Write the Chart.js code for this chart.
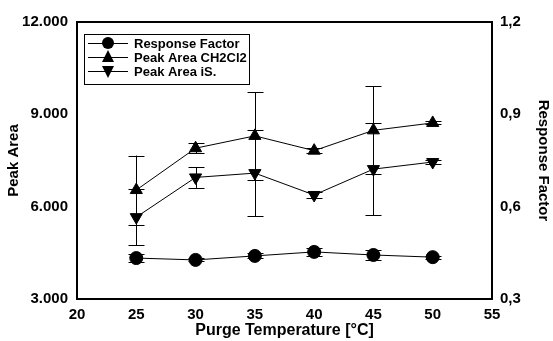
<!DOCTYPE html>
<html>
<head>
<meta charset="utf-8">
<script src="https://cdn.jsdelivr.net/npm/chart.js@4/dist/chart.umd.min.js"></script>
<style>
html,body{margin:0;padding:0;background:#fff;}
#wrap{width:553px;height:341px;}
</style>
</head>
<body>
<div id="wrap"><canvas id="c" width="553" height="341"></canvas></div>
<script>
const temps = [25, 30, 35, 40, 45, 50];
const responseFactor = [0.433, 0.427, 0.440, 0.453, 0.443, 0.436];
const responseFactorErr = [0.012, 0.005, 0.008, 0.012, 0.015, 0.005];
const peakCH2Cl2 = [6540, 7900, 8300, 7820, 8480, 8720];
const peakCH2Cl2Err = [1120, 170, 1420, 90, 1430, 50];
const peakIS = [5660, 6950, 7090, 6380, 7220, 7450];
const peakISErr = [910, 340, 1400, 100, 1500, 60];
const xTicks = [20, 25, 30, 35, 40, 45, 50, 55];
const leftTicks = [3000, 6000, 9000, 12000];
const leftTickLabels = ['3.000', '6.000', '9.000', '12.000'];
const rightTicks = [0.3, 0.6, 0.9, 1.2];
const rightTickLabels = ['0,3', '0,6', '0,9', '1,2'];
const seriesLabels = ['Response Factor', 'Peak Area CH2Cl2', 'Peak Area iS.'];
const axisTitles = {x: 'Purge Temperature [°C]', y: 'Peak Area', y1: 'Response Factor'};

const FONT = '"Liberation Sans", Arial, sans-serif';
const errs = [responseFactorErr, peakCH2Cl2Err, peakISErr];

const errorBars = {
  id: 'errorBars',
  beforeDatasetsDraw(chart) {
    const ctx = chart.ctx;
    ctx.save();
    ctx.strokeStyle = '#000';
    ctx.lineWidth = 1;
    chart.data.datasets.forEach((ds, i) => {
      const ys = chart.scales[ds.yAxisID];
      const xs = chart.scales.x;
      ds.data.forEach((p, j) => {
        const e = errs[i][j];
        const x = Math.round(xs.getPixelForValue(p.x)) + 0.5;
        const y1 = ys.getPixelForValue(p.y + e);
        const y2 = ys.getPixelForValue(p.y - e);
        ctx.beginPath();
        ctx.moveTo(x, y1); ctx.lineTo(x, y2);
        ctx.moveTo(x - 8, Math.round(y1) + 0.5); ctx.lineTo(x + 8, Math.round(y1) + 0.5);
        ctx.moveTo(x - 8, Math.round(y2) + 0.5); ctx.lineTo(x + 8, Math.round(y2) + 0.5);
        ctx.stroke();
      });
    });
    ctx.restore();
  }
};

const frameAndLegend = {
  id: 'frameAndLegend',
  afterDraw(chart) {
    const ctx = chart.ctx;
    const a = chart.chartArea;
    ctx.save();
    ctx.strokeStyle = '#000';
    ctx.lineWidth = 2;
    ctx.strokeRect(a.left, a.top, a.right - a.left, a.bottom - a.top);
    // legend
    const bx = a.left + 7, by = a.top + 12, bw = 165, bh = 50;
    ctx.lineWidth = 1;
    ctx.fillStyle = '#fff';
    ctx.fillRect(bx, by, bw, bh);
    ctx.strokeRect(bx + 0.5, by + 0.5, bw, bh);
    ctx.font = 'bold 13px ' + FONT;
    ctx.textBaseline = 'middle';
    chart.data.datasets.forEach((ds, i) => {
      const cy = by + 9 + i * 14;
      ctx.strokeStyle = '#000';
      ctx.lineWidth = 1;
      ctx.beginPath();
      ctx.moveTo(bx + 4, cy + 0.5); ctx.lineTo(bx + 44, cy + 0.5);
      ctx.stroke();
      const cx = bx + 24;
      ctx.fillStyle = '#000';
      ctx.beginPath();
      if (ds.pointStyle === 'circle') {
        ctx.arc(cx, cy, 6, 0, Math.PI * 2);
      } else if (ds.pointRotation === 180) {
        ctx.moveTo(cx - 6, cy - 5); ctx.lineTo(cx + 6, cy - 5); ctx.lineTo(cx, cy + 7);
      } else {
        ctx.moveTo(cx - 6, cy + 5); ctx.lineTo(cx + 6, cy + 5); ctx.lineTo(cx, cy - 7);
      }
      ctx.closePath();
      ctx.fill();
      ctx.fillText(ds.label, bx + 50, cy + 1);
    });
    ctx.restore();
  }
};

const mk = (xs, ys) => xs.map((x, i) => ({x: x, y: ys[i]}));

new Chart(document.getElementById('c'), {
  type: 'line',
  data: {
    datasets: [
      {label: seriesLabels[0], data: mk(temps, responseFactor), yAxisID: 'y1', pointStyle: 'circle', pointRadius: 6.5},
      {label: seriesLabels[1], data: mk(temps, peakCH2Cl2), yAxisID: 'y', pointStyle: 'triangle', pointRadius: 7},
      {label: seriesLabels[2], data: mk(temps, peakIS), yAxisID: 'y', pointStyle: 'triangle', pointRotation: 180, pointRadius: 7}
    ].map(d => Object.assign({
      borderColor: '#000', backgroundColor: '#000', borderWidth: 1,
      pointBackgroundColor: '#000', pointBorderColor: '#000', pointBorderWidth: 1,
      tension: 0, fill: false
    }, d))
  },
  options: {
    responsive: false,
    animation: false,
    layout: {padding: {top: 22, left: 0, right: 0, bottom: 0}},
    plugins: {legend: {display: false}, tooltip: {enabled: false}},
    scales: {
      x: {
        type: 'linear', min: 20, max: 55,
        afterBuildTicks: s => { s.ticks = xTicks.map(v => ({value: v})); },
        afterFit: s => { s.height = 42; },
        grid: {display: false, drawTicks: false}, border: {display: false},
        ticks: {color: '#000', padding: 7, font: {family: FONT, size: 15, weight: 'bold'}, maxRotation: 0},
        title: {display: true, text: axisTitles.x, color: '#000', padding: {top: 0, bottom: 1}, font: {family: FONT, size: 16, weight: 'bold'}}
      },
      y: {
        type: 'linear', position: 'left', min: 3000, max: 12000,
        afterBuildTicks: s => { s.ticks = leftTicks.map(v => ({value: v})); },
        afterFit: s => { s.width = 77; },
        grid: {display: false, drawTicks: false}, border: {display: false},
        ticks: {color: '#000', padding: 9, font: {family: FONT, size: 15, weight: 'bold'},
          callback: (v) => leftTickLabels[leftTicks.indexOf(v)]},
        title: {display: true, text: axisTitles.y, color: '#000', padding: {top: 5, bottom: 0}, font: {family: FONT, size: 15, weight: 'bold'}}
      },
      y1: {
        type: 'linear', position: 'right', min: 0.3, max: 1.2,
        afterBuildTicks: s => { s.ticks = rightTicks.map(v => ({value: v})); },
        afterFit: s => { s.width = 61; },
        grid: {display: false, drawTicks: false}, border: {display: false},
        ticks: {color: '#000', padding: 8, font: {family: FONT, size: 15, weight: 'bold'},
          callback: (v) => { const i = rightTicks.findIndex(t => Math.abs(t - v) < 1e-6); return rightTickLabels[i]; }},
        title: {display: true, text: axisTitles.y1, color: '#000', padding: {top: 1, bottom: 0}, font: {family: FONT, size: 15, weight: 'bold'}}
      }
    }
  },
  plugins: [errorBars, frameAndLegend]
});
</script>
</body>
</html>
